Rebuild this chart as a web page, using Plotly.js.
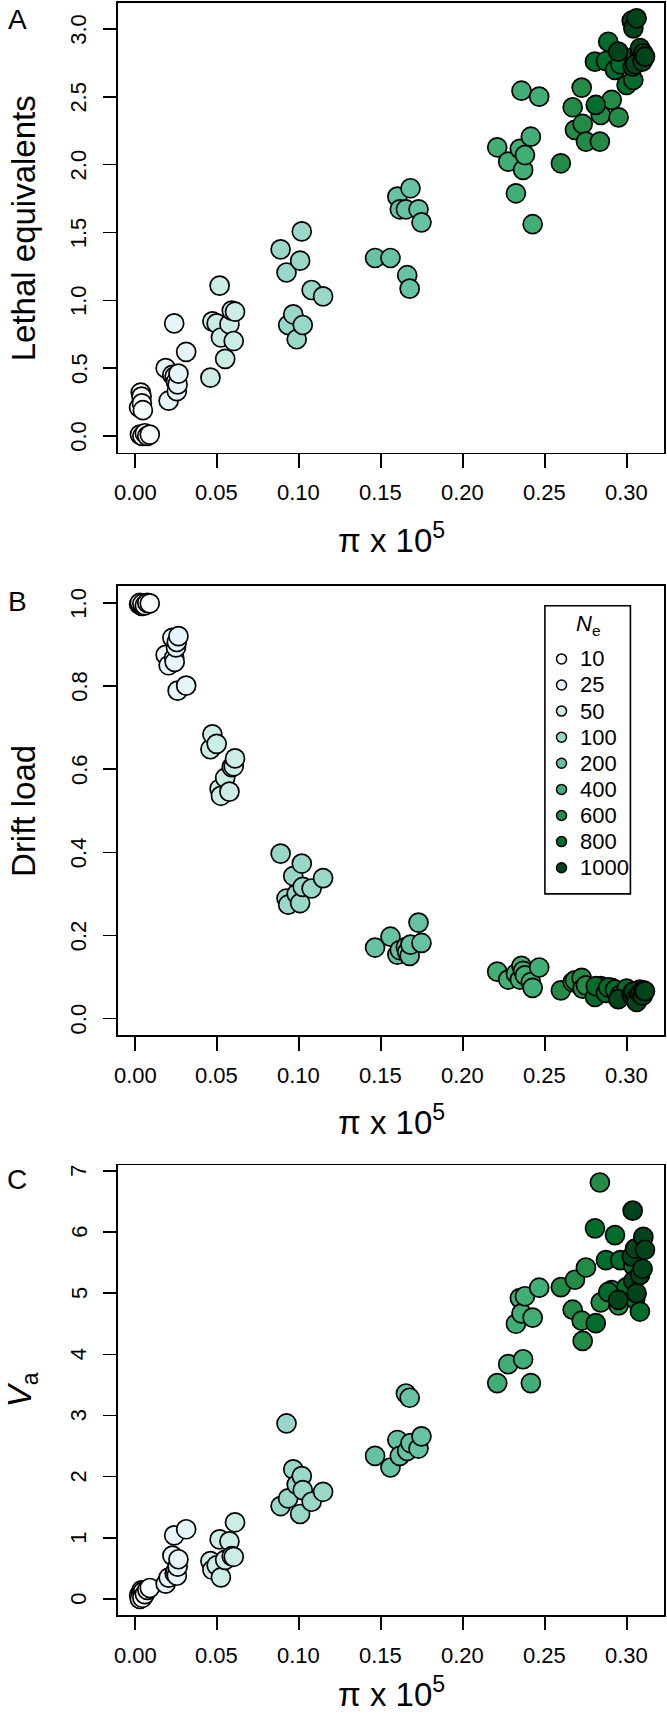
<!DOCTYPE html>
<html><head><meta charset="utf-8">
<script src="https://cdn.plot.ly/plotly-3.0.1.min.js"></script>
<style>html,body{margin:0;padding:0;background:#fff}</style>
</head><body><div id="chart" style="width:667px;height:1715px"></div>
<script>
// ---- categories, colours, ticks ----
const neLevels = ['10','25','50','100','200','400','600','800','1000'];
const neColors = ['#F7FCFD','#E5F5F9','#CCECE6','#99D8C9','#66C2A4','#41AE76','#238B45','#006D2C','#00441B'];
const xTicks = [0, 0.05, 0.10, 0.15, 0.20, 0.25, 0.30];
const yTicksA = [0, 0.5, 1.0, 1.5, 2.0, 2.5, 3.0];
const yTicksB = [0, 0.2, 0.4, 0.6, 0.8, 1.0];
const yTicksC = [0, 1, 2, 3, 4, 5, 6, 7];

// ---- data: pi x 10^5, lethal equivalents, drift load, Va per Ne ----
const pi10 = [0.0025, 0.0035, 0.0040, 0.0042, 0.0048, 0.0030, 0.0045, 0.0060, 0.0075, 0.0090];
const lethal10 = [0.21, 0.32, 0.29, 0.24, 0.19, 0.01, 0.0, 0.02, 0.0, 0.01];
const drift10 = [0.997, 0.995, 0.999, 0.993, 0.996, 1.0, 0.998, 0.994, 1.0, 0.999];
const va10 = [0.06, 0.10, 0.14, 0.05, 0.12, 0.0, 0.02, 0.08, 0.15, 0.18];

const pi25 = [0.0187, 0.0205, 0.0228, 0.0239, 0.0242, 0.0250, 0.0255, 0.0260, 0.0265, 0.0312];
const lethal25 = [0.50, 0.26, 0.45, 0.83, 0.44, 0.40, 0.33, 0.38, 0.46, 0.62];
const drift25 = [0.875, 0.850, 0.916, 0.868, 0.858, 0.893, 0.906, 0.789, 0.920, 0.801];
const va25 = [0.25, 0.35, 0.71, 1.04, 0.42, 0.46, 0.38, 0.53, 0.65, 1.14];

const pi50 = [0.0460, 0.0472, 0.0498, 0.0516, 0.0524, 0.0550, 0.0576, 0.0590, 0.0602, 0.0610];
const lethal50 = [0.43, 0.845, 0.83, 1.108, 0.726, 0.568, 0.824, 0.924, 0.70, 0.916];
const drift50 = [0.648, 0.684, 0.661, 0.553, 0.536, 0.579, 0.546, 0.605, 0.607, 0.626];
const va50 = [0.62, 0.478, 0.55, 0.974, 0.354, 0.64, 0.943, 0.70, 0.69, 1.254];

const pi100 = [0.0888, 0.0924, 0.0934, 0.0965, 0.0986, 0.1007, 0.1017, 0.1023, 0.1077, 0.1147];
const lethal100 = [1.376, 1.205, 0.818, 0.897, 0.713, 1.292, 1.508, 0.818, 1.076, 1.029];
const drift100 = [0.397, 0.289, 0.274, 0.343, 0.300, 0.278, 0.373, 0.317, 0.313, 0.338];
const va100 = [1.52, 2.87, 1.645, 2.12, 1.87, 1.39, 2.01, 1.78, 1.59, 1.753];

const pi200 = [0.1464, 0.1558, 0.1600, 0.1615, 0.1652, 0.1660, 0.1675, 0.1680, 0.1729, 0.1747];
const lethal200 = [1.312, 1.312, 1.764, 1.671, 1.671, 1.185, 1.086, 1.826, 1.671, 1.575];
const drift200 = [0.171, 0.197, 0.154, 0.165, 0.172, 0.160, 0.151, 0.178, 0.231, 0.182];
const va200 = [2.34, 2.15, 2.60, 2.34, 3.36, 2.42, 3.29, 2.55, 2.46, 2.66];

const pi400 = [0.2209, 0.2276, 0.2323, 0.2347, 0.2357, 0.2367, 0.2378, 0.2414, 0.2425, 0.2465];
const lethal400 = [2.128, 2.022, 1.789, 2.116, 2.545, 1.961, 2.071, 2.206, 1.561, 2.501];
const drift400 = [0.113, 0.094, 0.108, 0.094, 0.127, 0.115, 0.104, 0.088, 0.074, 0.123];
const va400 = [3.53, 3.84, 4.50, 4.92, 4.67, 3.92, 4.95, 3.53, 4.60, 5.09];

const pi600 = [0.2597, 0.2669, 0.2683, 0.2724, 0.2730, 0.2750, 0.2835, 0.2840, 0.2907, 0.2949];
const lethal600 = [2.010, 2.423, 2.256, 2.568, 2.300, 2.170, 2.170, 2.366, 2.477, 2.349];
const drift600 = [0.068, 0.088, 0.092, 0.098, 0.072, 0.080, 0.070, 0.078, 0.074, 0.065];
const va600 = [5.10, 4.73, 5.22, 4.55, 4.22, 5.42, 6.81, 4.85, 5.05, 4.80];

const pi800 = [0.2805, 0.2810, 0.2872, 0.2886, 0.2927, 0.2960, 0.2998, 0.3039, 0.3050, 0.3079];
const lethal800 = [2.759, 2.440, 2.764, 2.906, 2.698, 2.740, 2.587, 2.624, 2.800, 2.821];
const drift800 = [0.052, 0.078, 0.062, 0.075, 0.070, 0.058, 0.072, 0.065, 0.060, 0.070];
const va800 = [6.06, 4.51, 5.54, 5.02, 5.95, 5.54, 5.10, 5.45, 4.90, 4.70];

const pi1000 = [0.2947, 0.3029, 0.3035, 0.3039, 0.3050, 0.3059, 0.3080, 0.3095, 0.3100, 0.3110];
const lethal1000 = [2.833, 3.061, 2.722, 3.005, 2.740, 3.079, 2.860, 2.760, 2.820, 2.796];
const drift1000 = [0.047, 0.058, 0.052, 0.065, 0.046, 0.040, 0.060, 0.055, 0.068, 0.066];
const va1000 = [4.89, 5.60, 6.35, 5.20, 5.73, 5.00, 5.30, 5.40, 5.92, 5.71];

const piByNe = [pi10, pi25, pi50, pi100, pi200, pi400, pi600, pi800, pi1000];
const lethalByNe = [lethal10, lethal25, lethal50, lethal100, lethal200, lethal400, lethal600, lethal800, lethal1000];
const driftByNe = [drift10, drift25, drift50, drift100, drift200, drift400, drift600, drift800, drift1000];
const vaByNe = [va10, va25, va50, va100, va200, va400, va600, va800, va1000];

// ---- styling constants ----
const FONT = 'Liberation Sans, Arial, Helvetica, sans-serif';
const TICKFONT = {family: FONT, size: 22, color: '#000'};
const TITLEFONT = {family: FONT, size: 33, color: '#000'};

const panels = [
  {ys: lethalByNe, xa: 'x', ya: 'y', yt: yTicksA, dec: 1, title: 'Lethal equivalents', letter: 'A', lshift: -16.7, tshift: -94.6, xtshift: -85},
  {ys: driftByNe, xa: 'x2', ya: 'y2', yt: yTicksB, dec: 1, title: 'Drift load', letter: 'B', lshift: -15.5, tshift: -94.6, xtshift: -85},
  {ys: vaByNe, xa: 'x3', ya: 'y3', yt: yTicksC, dec: 0, title: '<i>V</i><sub>a</sub>', letter: 'C', lshift: -14.5, tshift: -96, xtshift: -77}
];

// ---- traces ----
const traces = [];
panels.forEach(p => {
  neLevels.forEach((ne, i) => {
    traces.push({
      type: 'scatter', mode: 'markers', name: ne,
      x: piByNe[i], y: p.ys[i], xaxis: p.xa, yaxis: p.ya,
      marker: {size: 19, color: neColors[i], line: {color: '#000', width: 1.7}},
      hoverinfo: 'skip', showlegend: false, cliponaxis: false
    });
  });
});
// legend symbols on a small hidden axis pair inside the legend box
traces.push({
  type: 'scatter', mode: 'markers', xaxis: 'x4', yaxis: 'y4',
  x: neLevels.map(() => 16.6), y: neLevels.map((_, i) => i),
  marker: {size: 10, color: neColors, line: {color: '#000', width: 1.5}},
  hoverinfo: 'skip', showlegend: false, cliponaxis: false
});

// ---- annotations (tick labels, titles, letters, legend text) ----
const ann = [];
panels.forEach(p => {
  xTicks.forEach(v => ann.push({
    text: v.toFixed(2), xref: p.xa, x: v, yref: p.ya + ' domain', y: 0, yshift: -40,
    xanchor: 'center', yanchor: 'middle', showarrow: false, font: TICKFONT
  }));
  p.yt.forEach(v => ann.push({
    text: v.toFixed(p.dec), yref: p.ya, y: v, xref: p.xa + ' domain', x: 0, xshift: -39.2,
    textangle: -90, xanchor: 'center', yanchor: 'middle', showarrow: false, font: TICKFONT
  }));
  ann.push({
    text: 'π x 10<sup>5</sup>', xref: p.xa + ' domain', x: 0.5, yref: p.ya + ' domain', y: 0, yshift: p.xtshift,
    xanchor: 'center', yanchor: 'middle', showarrow: false, font: TITLEFONT
  });
  ann.push({
    text: p.title, xref: p.xa + ' domain', x: 0, xshift: p.tshift, yref: p.ya + ' domain', y: 0.5,
    textangle: -90, xanchor: 'center', yanchor: 'middle', showarrow: false, font: TITLEFONT
  });
  ann.push({
    text: p.letter, xref: p.xa + ' domain', x: 0, xshift: -101, yref: p.ya + ' domain', y: 1, yshift: p.lshift,
    xanchor: 'center', yanchor: 'middle', showarrow: false, font: {family: FONT, size: 28, color: '#000'}
  });
});
neLevels.forEach((ne, i) => ann.push({
  text: ne, xref: 'x4', x: 32.6, yref: 'y4', y: i, xanchor: 'left', yanchor: 'middle',
  showarrow: false, font: {family: FONT, size: 22, color: '#000'}
}));
ann.push({
  text: '<i>N</i><sub>e</sub>', xref: 'x4', yref: 'y4', x: 43.4, y: -1.3, showarrow: false,
  font: {family: FONT, size: 22, color: '#000'}, xanchor: 'center', yanchor: 'middle'
});

function xAxis(anchor) {
  return {
    anchor: anchor, domain: [0, 1], range: [-0.01037, 0.3226],
    tickvals: xTicks, showticklabels: false,
    ticks: 'outside', ticklen: 13.5, tickwidth: 1.6, tickcolor: '#000',
    showline: true, mirror: true, linecolor: '#000', linewidth: 1.6,
    showgrid: false, zeroline: false, fixedrange: true
  };
}
function yAxis(anchor, domain, range, ticks) {
  return {
    anchor: anchor, domain: domain, range: range, tickvals: ticks, showticklabels: false,
    ticks: 'outside', ticklen: 13.5, tickwidth: 1.6, tickcolor: '#000',
    showline: true, mirror: true, linecolor: '#000', linewidth: 1.6,
    showgrid: false, zeroline: false, fixedrange: true
  };
}

const layout = {
  width: 667, height: 1715,
  margin: {l: 118, r: 3, t: 3, b: 100, pad: 0},
  paper_bgcolor: '#fff', plot_bgcolor: '#fff',
  showlegend: false,
  font: {family: FONT, color: '#000', size: 22},
  xaxis: xAxis('y'),
  xaxis2: xAxis('y2'),
  xaxis3: xAxis('y3'),
  yaxis: yAxis('x', [0.72097, 1.0], [-0.124, 3.1916], yTicksA),
  yaxis2: yAxis('x2', [0.35955, 0.63852], [-0.0404, 1.0414], yTicksB),
  yaxis3: yAxis('x3', [0, 0.27885], [-0.2617, 7.088], yTicksC),
  xaxis4: {anchor: 'y4', domain: [0.7819, 0.9385], range: [0, 85.5], visible: false, fixedrange: true},
  yaxis4: {anchor: 'x4', domain: [0.44733, 0.62612], range: [9.004, -2.038], visible: false, fixedrange: true},
  shapes: [{
    type: 'rect', xref: 'x4 domain', yref: 'y4 domain', x0: 0, x1: 1, y0: 0, y1: 1,
    line: {color: '#000', width: 1.6}, fillcolor: 'rgba(0,0,0,0)', layer: 'above'
  }],
  annotations: ann
};

Plotly.newPlot('chart', traces, layout, {staticPlot: true, displayModeBar: false});
</script>
</body></html>
